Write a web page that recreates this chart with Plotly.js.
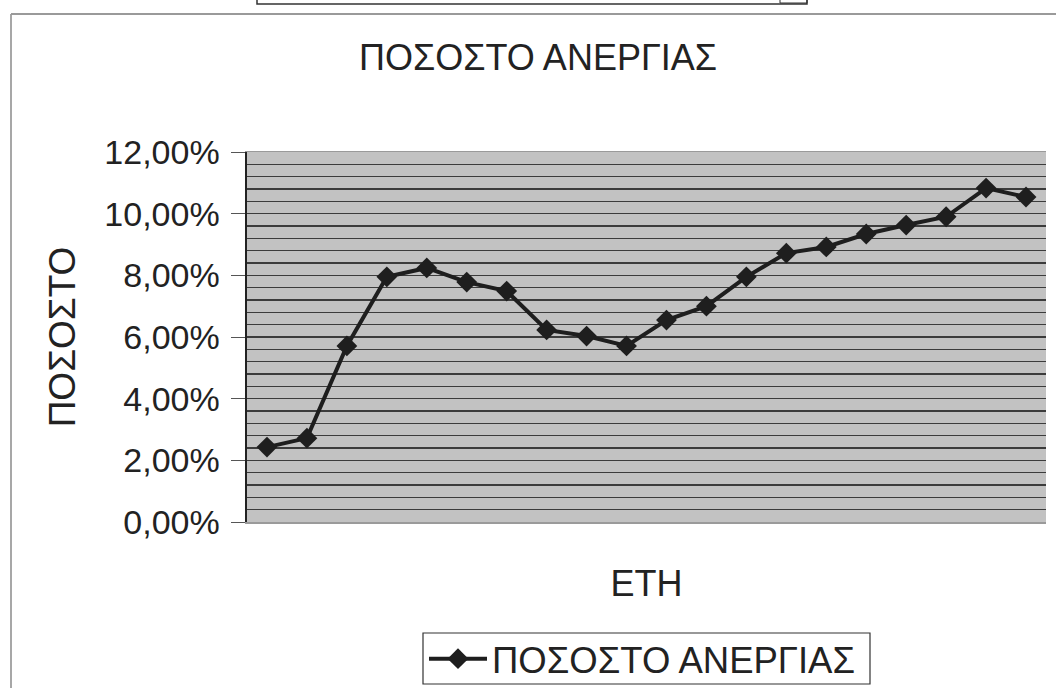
<!DOCTYPE html>
<html>
<head>
<meta charset="utf-8">
<script src="https://cdn.plot.ly/plotly-3.0.1.min.js"></script>
<style>html,body{margin:0;padding:0;background:#fff;}#chart{width:1056px;height:688px;}</style>
</head>
<body>
<div id="chart"></div>
<script>
// Data (years are unlabeled in the original; 20 consecutive observations)
const categories = ["1","2","3","4","5","6","7","8","9","10","11","12","13","14","15","16","17","18","19","20"];
const unemploymentRate = [0.0243,0.0272,0.0571,0.0795,0.0824,0.0778,0.0749,0.0623,0.0603,0.0571,
                          0.0655,0.0700,0.0795,0.0872,0.0892,0.0934,0.0963,0.0990,0.1083,0.1054];
const seriesName = "ΠΟΣΟΣΤΟ ΑΝΕΡΓΙΑΣ";
const chartTitle = "ΠΟΣΟΣΤΟ ΑΝΕΡΓΙΑΣ";
const yTitle = "ΠΟΣΟΣΤΟ";
const xTitle = "ΕΤΗ";
const yTickVals = [0,0.02,0.04,0.06,0.08,0.10,0.12];

const FONT = "Liberation Sans, Arial, sans-serif";
const INK = "#222222";

const trace = {
  x: categories, y: unemploymentRate, name: seriesName,
  type: "scatter", mode: "lines+markers",
  line: {color: "#1e1e1e", width: 4},
  marker: {symbol: "diamond", size: 16, color: "#1e1e1e"}
};

// pixel -> paper helpers for decoration shapes
const L = 247, R = 1046, T = 152, B = 522;
const px = v => (v - L) / (R - L);
const py = v => (B - v) / (B - T);

const layout = {
  width: 1056, height: 688,
  margin: {l: L, r: 1056 - R, t: T, b: 688 - B, autoexpand: false},
  paper_bgcolor: "#ffffff",
  plot_bgcolor: "#c2c2c2",
  separators: ",.",
  font: {family: FONT, color: INK, size: 32},
  title: {text: chartTitle, font: {family: FONT, size: 36, color: INK},
          x: 538/1056, xanchor: "center", y: 1 - 57/688, yanchor: "middle"},
  showlegend: true,
  legend: {orientation: "h", x: px(424), xanchor: "left", y: py(659), yanchor: "middle",
           bgcolor: "rgba(0,0,0,0)", borderwidth: 0, itemwidth: 58,
           font: {family: FONT, size: 36.5, color: INK}},
  xaxis: {type: "category", range: [-0.5, categories.length - 0.5],
          showticklabels: false, ticks: "", showgrid: false, zeroline: false,
          showline: true, linecolor: "#9a9a9a", linewidth: 1.5, mirror: true,
          title: {text: xTitle, font: {family: FONT, size: 36, color: INK}, standoff: 48}},
  yaxis: {range: [0, 0.12], tickvals: yTickVals, tickformat: ".2%",
          ticks: "outside", ticklen: 14, tickcolor: "#555", tickwidth: 1, ticklabelstandoff: 4,
          tickfont: {family: FONT, size: 34, color: INK},
          showgrid: true, gridcolor: "#3c3c3c", gridwidth: 1.6,
          minor: {dtick: 0.004, showgrid: true, gridcolor: "#3c3c3c", gridwidth: 1.6, ticks: ""},
          zeroline: false, showline: true, linecolor: "#222", linewidth: 2.5,
          title: {text: yTitle, font: {family: FONT, size: 37, color: INK}, standoff: 18}},
  shapes: [
    // outer chart border (left and top)
    {type: "line", xref: "paper", yref: "paper", x0: px(11), x1: px(11), y0: py(14), y1: py(700),
     line: {color: "#8a8a8a", width: 1.5}},
    {type: "line", xref: "paper", yref: "paper", x0: px(11), x1: px(1060), y0: py(14), y1: py(14),
     line: {color: "#9a9a9a", width: 2}},
    // partial box cut off at top
    {type: "rect", xref: "paper", yref: "paper", x0: px(257), x1: px(807), y0: py(4), y1: py(-10),
     line: {color: "#333", width: 1.5}},
    {type: "rect", xref: "paper", yref: "paper", x0: px(780), x1: px(807), y0: py(3), y1: py(-10),
     line: {color: "#333", width: 1}},
    // legend frame
    {type: "rect", xref: "paper", yref: "paper", x0: px(423), x1: px(870), y0: py(684), y1: py(633),
     line: {color: "#333", width: 1.2}}
  ]
};

Plotly.newPlot("chart", [trace], layout, {displayModeBar: false, staticPlot: true});
</script>
</body>
</html>
